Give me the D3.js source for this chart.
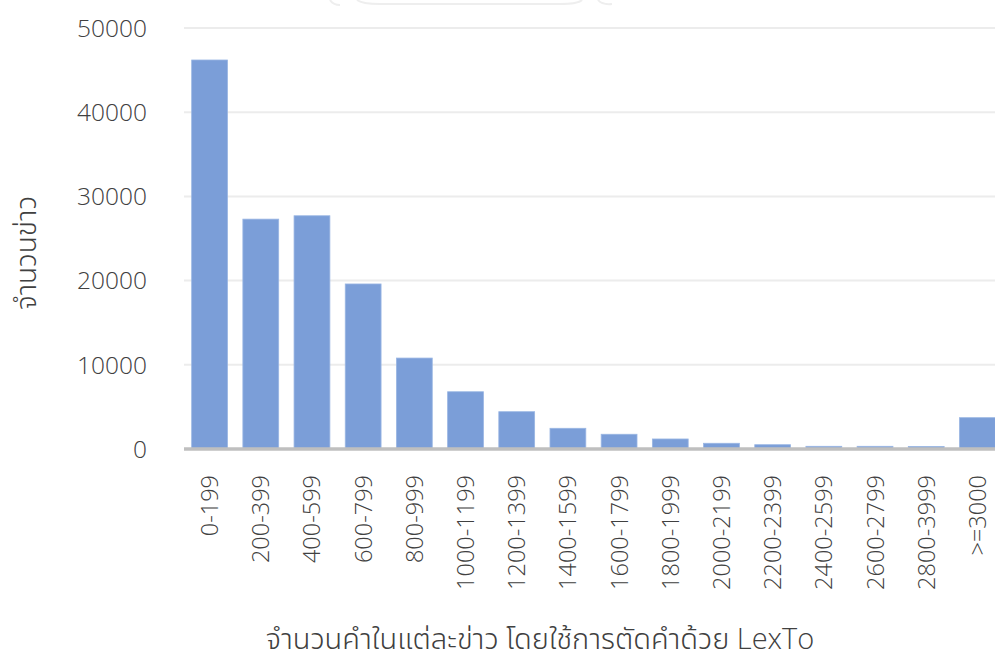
<!DOCTYPE html>
<html>
<head>
<meta charset="utf-8">
<script src="https://cdn.jsdelivr.net/npm/d3@7"></script>
<style>
  html, body { margin: 0; padding: 0; background: #ffffff; }
  svg { display: block; }
</style>
</head>
<body>
<svg id="chart" width="995" height="659"></svg>
<script>
// Word-count ranges per news article (LexTo segmentation)
const categories = ["0-199", "200-399", "400-599", "600-799", "800-999", "1000-1199",
  "1200-1399", "1400-1599", "1600-1799", "1800-1999", "2000-2199", "2200-2399",
  "2400-2599", "2600-2799", "2800-3999", ">=3000"];
const counts = [46200, 27300, 27700, 19600, 10800, 6800, 4430, 2460, 1750, 1190,
  680, 510, 320, 320, 300, 3720];
const yTicks = [0, 10000, 20000, 30000, 40000, 50000];
const xTitle = "จำนวนคำในแต่ละข่าว โดยใช้การตัดคำด้วย LexTo";
const yTitle = "จำนวนข่าว";

const svg = d3.select("#chart");
const font = "'Open Sans', 'Noto Sans', 'Noto Sans Thai', Tahoma, sans-serif";

const plot = { left: 184, right: 1003, top: 28, bottom: 449 };

const x = d3.scaleBand()
  .domain(categories)
  .range([plot.left, plot.right])
  .paddingInner(0.3)
  .paddingOuter(0.15);

const y = d3.scaleLinear()
  .domain([0, 50000])
  .range([plot.bottom, plot.top]);

// faint emblem remnant at the top edge
svg.append("path")
  .attr("d", "M330,0 Q333,5 340,5 M357,0 Q362,4 380,4 L560,4 Q578,4 582,0 M598,0 Q602,5 612,4")
  .attr("fill", "none")
  .attr("stroke", "#eeeeee")
  .attr("stroke-width", 2);

// horizontal gridlines
svg.append("g")
  .selectAll("line")
  .data(yTicks.filter(d => d > 0))
  .join("line")
  .attr("x1", plot.left)
  .attr("x2", 995)
  .attr("y1", d => y(d))
  .attr("y2", d => y(d))
  .attr("stroke", "#ececec")
  .attr("stroke-width", 2);

// y tick labels
const yAxis = d3.axisLeft(y).tickValues(yTicks).tickSize(0).tickPadding(0).tickFormat(d3.format("d"));
const gy = svg.append("g")
  .attr("transform", "translate(147,0)")
  .call(yAxis);
gy.select(".domain").remove();
gy.selectAll("text")
  .attr("font-family", font)
  .attr("font-size", 24.5)
  .attr("font-weight", 300)
  .attr("fill", "#404040")
  .attr("dy", "0.34em");

// bars
svg.append("g")
  .selectAll("rect")
  .data(categories.map((c, i) => ({ c, v: counts[i] })))
  .join("rect")
  .attr("x", d => x(d.c))
  .attr("width", x.bandwidth())
  .attr("y", d => y(d.v))
  .attr("height", d => y(0) - y(d.v))
  .attr("fill", "#7b9ed8")
  .attr("stroke", "#9ab6e3")
  .attr("stroke-width", 0.8);

// category axis
const xAxis = d3.axisBottom(x).tickSize(0).tickSizeOuter(0);
const gx = svg.append("g")
  .attr("transform", `translate(0,${plot.bottom})`)
  .call(xAxis);
gx.select(".domain")
  .attr("stroke", "#bfbfbf")
  .attr("stroke-width", 3.5)
  .attr("d", `M${plot.left},0H995`);
gx.selectAll("text")
  .attr("font-family", font)
  .attr("font-size", 23.5)
  .attr("font-weight", 300)
  .attr("fill", "#404040")
  .attr("text-anchor", "end")
  .attr("transform", "rotate(-90)")
  .attr("x", -26)
  .attr("y", 0)
  .attr("dy", "0.36em");

// axis titles
svg.append("text")
  .attr("x", 540)
  .attr("y", 649)
  .attr("text-anchor", "middle")
  .attr("font-family", font)
  .attr("font-size", 29)
  .attr("font-weight", 300)
  .attr("fill", "#404040")
  .text(xTitle);

svg.append("text")
  .attr("transform", "translate(36,253) rotate(-90)")
  .attr("text-anchor", "middle")
  .attr("font-family", font)
  .attr("font-size", 28)
  .attr("font-weight", 300)
  .attr("fill", "#404040")
  .text(yTitle);
</script>
</body>
</html>
